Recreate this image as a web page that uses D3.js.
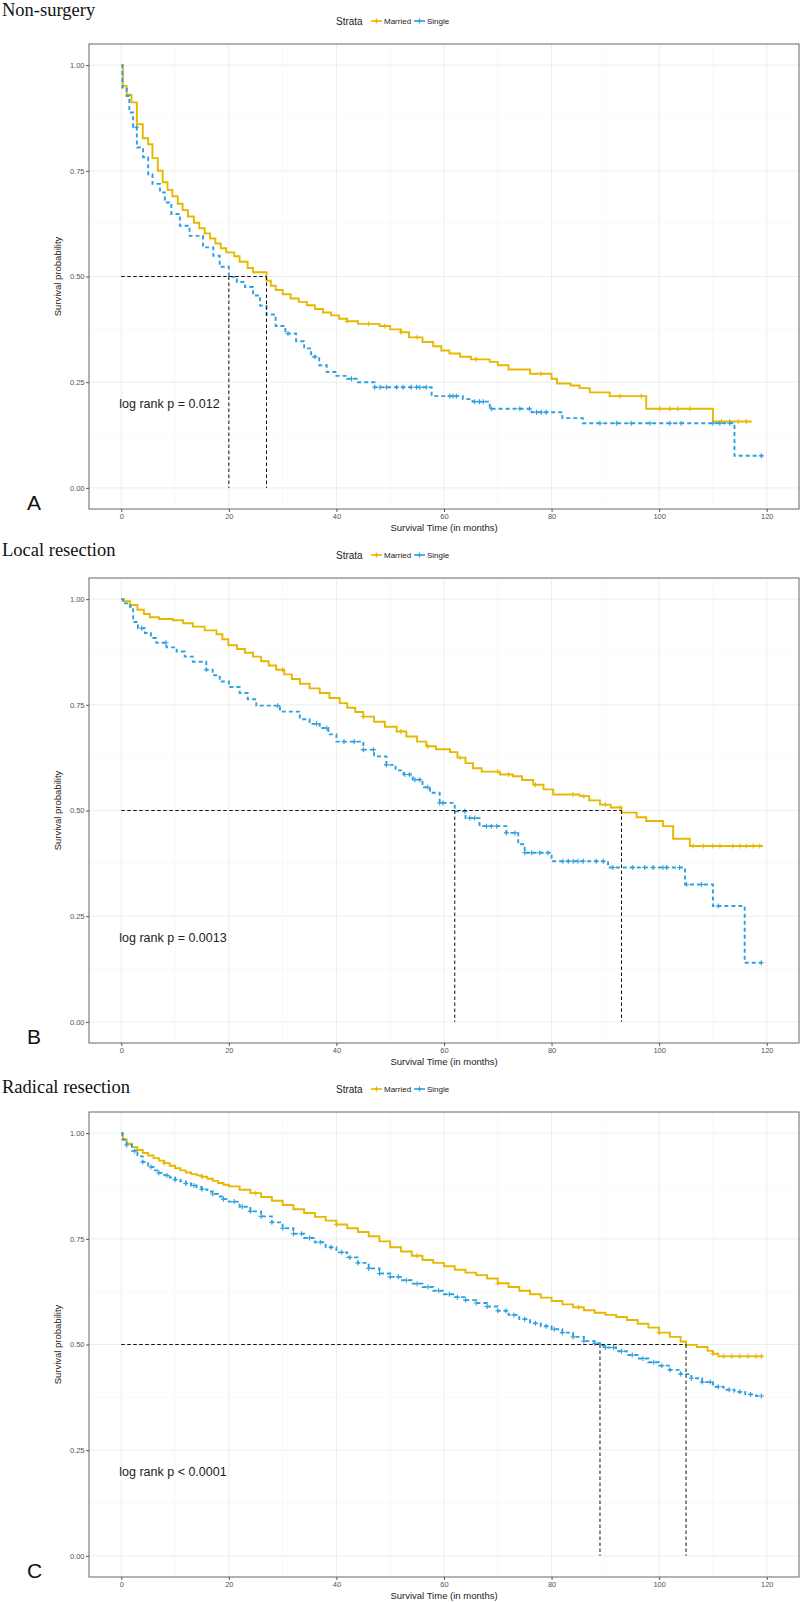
<!DOCTYPE html>
<html lang="en">
<head>
<meta charset="utf-8">
<script src="https://d3js.org/d3.v7.min.js"></script>
<style>
  body { margin: 0; background: #fff; }
  svg text { font-family: "Liberation Sans", Arial, sans-serif; }
</style>
</head>
<body>
<script>
// ---- labels ----
var panelTitles = ["Non-surgery", "Local resection", "Radical resection"];
var panelLetters = ["A", "B", "C"];
var pvalTexts = ["log rank p = 0.012", "log rank p = 0.0013", "log rank p < 0.0001"];
var strata = ["Married", "Single"];
var xTicks = [0, 20, 40, 60, 80, 100, 120];
var yTicks = [0, 0.25, 0.5, 0.75, 1];

// ---- medians [married, single] ----
var mediansA = [27, 20];
var mediansB = [93, 62];
var mediansC = [105, 89];

// ---- last follow-up time [married, single] ----
var endA = [117.2, 119.3];
var endB = [119.3, 119];
var endC = [119.3, 119];

// ---- Kaplan-Meier steps: [time, survival] ----
var marriedA = [[0.3,0.951],[1,0.93],[1.9,0.912],[2.9,0.86],[4,0.827],[5,0.813],[5.8,0.78],[6.8,0.75],[7.7,0.723],[8.6,0.705],
  [9.5,0.69],[10.5,0.672],[11.4,0.657],[12.4,0.642],[13.5,0.627],[14.5,0.614],[15.5,0.602],[16.5,0.59],[17.5,0.578],[18.5,0.567],
  [19.5,0.557],[21,0.548],[22,0.535],[23.5,0.52],[24.5,0.51],[27,0.49],[27.8,0.478],[28.7,0.468],[30,0.458],[31.5,0.448],
  [33,0.44],[34.5,0.432],[36,0.423],[37.5,0.415],[39,0.408],[40.5,0.4],[42,0.394],[44,0.388],[48,0.383],[50,0.375],
  [52,0.368],[53.5,0.356],[56,0.345],[58,0.335],[59.5,0.325],[61,0.318],[63,0.31],[65,0.304],[68.5,0.298],[70,0.29],
  [72,0.28],[76,0.27],[80,0.258],[81,0.247],[83.5,0.242],[85.2,0.236],[87.1,0.226],[90.8,0.217],[97.6,0.187],[110,0.157]];
var singleA = [[0.2,0.947],[1,0.927],[1.5,0.888],[2.2,0.853],[2.9,0.805],[4.05,0.782],[5,0.742],[5.8,0.719],[7.2,0.699],[8.1,0.675],
  [9.3,0.648],[10.9,0.62],[12.7,0.596],[15.2,0.569],[17.1,0.549],[18.3,0.523],[20,0.499],[21.5,0.487],[23,0.475],[24.5,0.455],
  [25.8,0.431],[27,0.41],[28.7,0.383],[30.5,0.365],[32.5,0.347],[34,0.33],[35.3,0.31],[36.8,0.29],[38.2,0.274],[40,0.265],
  [42,0.258],[44,0.25],[47.1,0.238],[57.7,0.217],[63.5,0.21],[65.3,0.204],[68.5,0.187],[76.3,0.179],[82,0.165],[85.8,0.153],[114,0.076]];

var marriedB = [[0.5,0.995],[1.6,0.986],[3,0.975],[4.2,0.965],[5.3,0.957],[7,0.953],[9.6,0.95],[11.5,0.943],[13.3,0.935],[15.5,0.926],
  [17.7,0.917],[18.8,0.905],[19.9,0.891],[21.5,0.882],[23,0.873],[24.5,0.864],[26,0.853],[27.4,0.843],[28.8,0.833],[30.3,0.822],
  [31.7,0.811],[33.2,0.8],[35,0.789],[36.9,0.778],[38.7,0.766],[40.6,0.754],[42,0.743],[43.5,0.733],[45,0.722],[47,0.71],
  [49,0.698],[51.2,0.687],[53,0.675],[55,0.663],[56.7,0.652],[58.5,0.645],[61.1,0.638],[62.5,0.625],[64,0.612],[65.4,0.6],
  [67,0.592],[70.4,0.585],[72.8,0.581],[74.5,0.572],[76.6,0.561],[78.5,0.55],[80.3,0.538],[85.2,0.534],[87,0.524],[89,0.514],
  [91,0.507],[93,0.495],[95.8,0.484],[97.6,0.475],[100.7,0.463],[102.6,0.433],[105.7,0.416]];
var singleB = [[0.3,0.99],[1.6,0.982],[2.2,0.946],[3.1,0.931],[4.4,0.92],[5.5,0.908],[6.5,0.897],[8.4,0.886],[10.3,0.876],[11.8,0.864],
  [13.3,0.852],[15.8,0.833],[17,0.82],[18.3,0.805],[20,0.792],[22,0.778],[23.5,0.763],[25.1,0.748],[29.5,0.734],[33.2,0.716],
  [35,0.705],[36.9,0.695],[38.5,0.68],[40,0.663],[45,0.644],[47,0.628],[49.3,0.608],[51,0.595],[52.5,0.585],[54.2,0.573],
  [56,0.555],[57.4,0.542],[59.2,0.518],[62,0.498],[64,0.482],[66.6,0.463],[71.6,0.447],[73.8,0.42],[75,0.4],[80,0.38],
  [90.5,0.365],[104.8,0.325],[110,0.274],[115.9,0.14]];

var marriedC = [[0.3,0.985],[1,0.975],[2,0.967],[3,0.96],[4,0.953],[5,0.947],[6,0.941],[7,0.935],[8,0.929],[9,0.923],
  [10,0.917],[11,0.912],[12,0.907],[13,0.903],[14,0.9],[15,0.897],[16,0.892],[17,0.887],[18,0.882],[19,0.878],
  [20,0.874],[22,0.866],[24,0.858],[26,0.849],[28,0.84],[30,0.83],[32,0.82],[34,0.811],[36,0.802],[38,0.793],
  [40,0.784],[42,0.775],[44,0.766],[46,0.756],[48,0.744],[50,0.73],[52,0.72],[54,0.71],[56,0.7],[58,0.693],
  [60,0.685],[62,0.677],[64,0.67],[66,0.664],[68,0.656],[70,0.645],[72,0.636],[74,0.627],[76,0.619],[78,0.611],
  [80,0.603],[82,0.595],[84,0.588],[86,0.581],[88,0.575],[90,0.57],[92,0.565],[94,0.558],[96,0.549],[98,0.54],
  [100,0.528],[102,0.518],[104,0.507],[105,0.499],[107,0.494],[109,0.485],[110,0.478],[111,0.472]];
var singleC = [[0.2,0.985],[1,0.972],[2,0.958],[3,0.945],[4,0.932],[5,0.92],[6,0.912],[7,0.906],[8,0.9],[9,0.895],
  [10,0.89],[11,0.886],[12,0.881],[13,0.876],[14,0.872],[15,0.867],[16,0.862],[17,0.856],[18,0.85],[19,0.844],
  [20,0.838],[22,0.826],[24,0.815],[26,0.803],[28,0.789],[30,0.775],[32,0.762],[34,0.752],[36,0.742],[38,0.73],
  [40,0.718],[42,0.706],[44,0.693],[46,0.68],[48,0.668],[50,0.66],[52,0.652],[54,0.644],[56,0.636],[58,0.627],
  [60,0.619],[62,0.612],[64,0.605],[66,0.598],[68,0.59],[70,0.58],[72,0.57],[74,0.56],[76,0.55],[78,0.543],
  [80,0.536],[82,0.528],[84,0.518],[86,0.508],[88,0.503],[89,0.497],[90,0.493],[92,0.484],[94,0.475],[96,0.467],
  [98,0.458],[100,0.45],[102,0.44],[104,0.43],[106,0.42],[108,0.411],[110,0.4],[112,0.393],[114,0.388],[116,0.382],[118,0.378]];

// ---- censoring times ----
var censorA_married = [42, 46, 49, 52, 55, 66, 78, 92.7, 96.7, 100.1, 102, 103.5, 105.7, 111.6, 113.1, 114.7, 116.2];
var censorA_single = [2.8, 31, 36, 42.8, 47.1, 48.1, 49.3, 51.2, 52.4, 53.9, 54.9, 55.5, 56.7, 61.1, 61.7, 62.3, 65.7, 66.6, 67.3,
  68.8, 74.1, 75.9, 77.2, 78.1, 79, 89, 92.1, 94.8, 98.3, 102, 104.1, 110, 111.3, 113.1, 119];
var censorB_married = [30, 45, 52, 57, 63, 70, 72, 77, 84, 86, 90, 92.7, 106.3, 108.2, 110, 111.3, 113.7, 115, 116.2, 117.5, 118.7];
var censorB_single = [3.8, 8.3, 15.8, 29.1, 36.3, 38.2, 41.4, 43.3, 45, 46.9, 49.3, 52.7, 53.6, 54.6, 55.5, 57, 59.2, 59.8, 63.9,
  64.8, 65.7, 67.9, 68.8, 69.8, 71.6, 73.2, 75, 76.3, 77.8, 79.3, 82.1, 83.1, 84, 84.9, 85.9, 88.3, 89.6, 91.4, 95.1, 97.3, 98.9,
  100.7, 101.4, 103.8, 105.1, 107.9, 111, 119];
var censorC_married = [3, 8, 15, 25, 40, 55, 70, 85, 100, 110, 112, 113.5, 115, 116.5, 118, 119];
var censorC_single = [1, 2.5, 4, 5.5, 7, 8.5, 10, 12, 13.5, 15, 17, 19, 21, 22.5, 24, 26, 28, 30, 32, 33.5, 35, 37, 39, 41, 42.5,
  44, 46, 48, 50, 51.5, 53, 55, 57, 59, 61, 62.5, 64, 66, 68, 70, 71.5, 73, 75, 77, 79, 80.5, 82, 84, 86, 88, 90, 91.5, 93, 95,
  97, 99, 100.5, 102, 104, 106, 108, 109.5, 111, 113, 115, 117, 119];

var panels = [
  { top: 44, titleY: 16, curves: [marriedA, singleA], ends: endA, medians: mediansA, censor: [censorA_married, censorA_single] },
  { top: 578, titleY: 556, curves: [marriedB, singleB], ends: endB, medians: mediansB, censor: [censorB_married, censorB_single] },
  { top: 1112, titleY: 1093, curves: [marriedC, singleC], ends: endC, medians: mediansC, censor: [censorC_married, censorC_single] }
];

var colors = ["#E7B800", "#2E9FDF"];
var dashes = [null, "4,3"];

var svg = d3.select("body").append("svg")
  .attr("width", 800).attr("height", 1602)
  .style("display", "block");

function survAt(steps, t) {
  var s = 1;
  steps.forEach(function(d) { if (d[0] <= t) s = d[1]; });
  return s;
}

function plusPath(cx, cy, r) {
  return "M" + (cx - r) + "," + cy + "H" + (cx + r) + "M" + cx + "," + (cy - r) + "V" + (cy + r);
}

panels.forEach(function(p, i) {
  var top = p.top, bottom = top + 465;
  var x = d3.scaleLinear().domain([-6, 126]).range([89, 799]);
  var y = d3.scaleLinear().domain([-0.05, 1.05]).range([bottom, top]);
  var g = svg.append("g");

  // title
  g.append("text").attr("x", 2).attr("y", p.titleY)
    .style("font-family", "'Liberation Serif', 'Times New Roman', serif")
    .style("font-size", "18.5px").attr("fill", "#111").text(panelTitles[i]);

  // legend
  var ly = top - 23;
  g.append("text").attr("x", 336).attr("y", ly + 3.5).style("font-size", "10px").attr("fill", "#222").text("Strata");
  var lx = [371, 414];
  strata.forEach(function(s, k) {
    g.append("line").attr("x1", lx[k]).attr("x2", lx[k] + 11).attr("y1", ly).attr("y2", ly)
      .attr("stroke", colors[k]).attr("stroke-width", 1.6);
    g.append("path").attr("d", plusPath(lx[k] + 5.5, ly, 2.5)).attr("stroke", colors[k]).attr("stroke-width", 1.2);
    g.append("text").attr("x", lx[k] + 13).attr("y", ly + 2.8).style("font-size", "8px").attr("fill", "#222").text(s);
  });

  // grid
  var grid = g.append("g");
  d3.range(-10, 131, 10).forEach(function(v) {
    if (v < -6 || v > 126) return;
    var major = v % 20 === 0;
    grid.append("line").attr("x1", x(v)).attr("x2", x(v)).attr("y1", top).attr("y2", bottom)
      .attr("stroke", major ? "#ebebeb" : "#f5f5f5").attr("stroke-width", major ? 0.9 : 0.6);
  });
  d3.range(0, 1.01, 0.125).forEach(function(v) {
    var major = Math.round(v * 8) % 2 === 0;
    grid.append("line").attr("x1", x.range()[0]).attr("x2", x.range()[1]).attr("y1", y(v)).attr("y2", y(v))
      .attr("stroke", major ? "#ebebeb" : "#f5f5f5").attr("stroke-width", major ? 0.9 : 0.6);
  });

  // curves
  var line = d3.line().x(function(d) { return x(d[0]); }).y(function(d) { return y(d[1]); }).curve(d3.curveStepAfter);
  p.curves.forEach(function(steps, k) {
    var pts = [[0, 1]].concat(steps);
    pts.push([p.ends[k], steps[steps.length - 1][1]]);
    g.append("path").attr("d", line(pts)).attr("fill", "none")
      .attr("stroke", colors[k]).attr("stroke-width", 1.9)
      .attr("stroke-dasharray", dashes[k]);
    g.append("g").selectAll("path").data(p.censor[k]).enter().append("path")
      .attr("d", function(t) { return plusPath(x(t), y(survAt(steps, t)), 2.5); })
      .attr("stroke", colors[k]).attr("stroke-width", 1.1);
  });

  // median lines
  var mg = g.append("g").attr("stroke", "#111").attr("stroke-width", 1).attr("stroke-dasharray", "3.5,2.5");
  mg.append("line").attr("x1", x(0)).attr("x2", x(d3.max(p.medians))).attr("y1", y(0.5)).attr("y2", y(0.5));
  p.medians.forEach(function(m) {
    mg.append("line").attr("x1", x(m)).attr("x2", x(m)).attr("y1", y(0.5)).attr("y2", y(0));
  });

  // p value
  g.append("text").attr("x", x(0) - 2).attr("y", y(0.2) + 4.5)
    .style("font-size", "12.5px").attr("fill", "#222").text(pvalTexts[i]);

  // border
  g.append("rect").attr("x", 89).attr("y", top).attr("width", 710).attr("height", 465)
    .attr("fill", "none").attr("stroke", "#666").attr("stroke-width", 1);

  // axes
  var ax = g.append("g").attr("transform", "translate(0," + bottom + ")")
    .call(d3.axisBottom(x).tickValues(xTicks).tickSize(3).tickPadding(2));
  var ay = g.append("g").attr("transform", "translate(89,0)")
    .call(d3.axisLeft(y).tickValues(yTicks).tickFormat(d3.format(".2f")).tickSize(3).tickPadding(1.5));
  [ax, ay].forEach(function(a) {
    a.select(".domain").remove();
    a.selectAll("line").attr("stroke", "#555");
    a.selectAll("text").attr("fill", "#555").style("font-size", "7.5px").style("font-family", "'Liberation Sans', Arial, sans-serif");
  });

  // axis titles
  g.append("text").attr("x", 444).attr("y", bottom + 22).attr("text-anchor", "middle")
    .style("font-size", "9.5px").attr("fill", "#222").text("Survival Time (in months)");
  g.append("text").attr("transform", "translate(61," + ((y(0) + y(1)) / 2) + ") rotate(-90)")
    .attr("text-anchor", "middle").style("font-size", "9.5px").attr("fill", "#222").text("Survival probability");

  // panel letter
  g.append("text").attr("x", 27).attr("y", bottom + 1).style("font-size", "21px").attr("fill", "#111").text(panelLetters[i]);
});
</script>
</body>
</html>
